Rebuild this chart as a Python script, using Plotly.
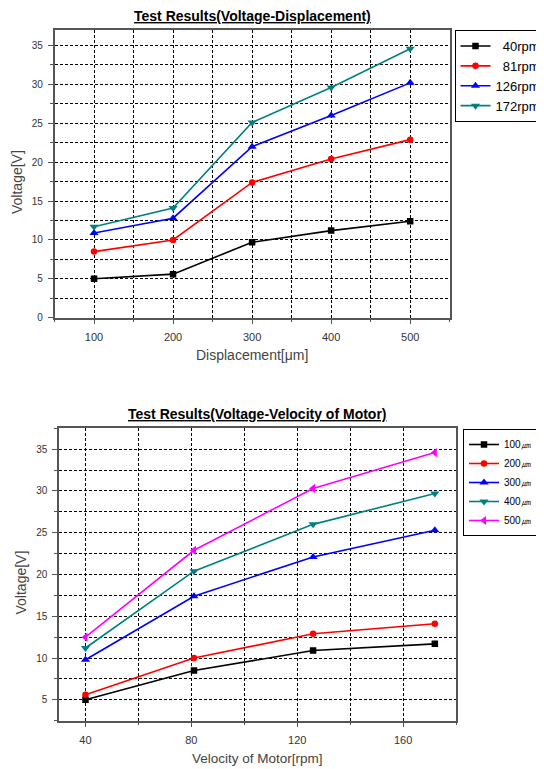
import plotly.graph_objects as go

# ---- Data: chart 1 (Voltage vs Displacement) ----
displacement = [100, 200, 300, 400, 500]
rpm_labels = ["  40rpm", "  81rpm", "126rpm", "172rpm"]
v_40rpm = [5.0, 5.6, 9.7, 11.2, 12.4]
v_81rpm = [8.5, 10.0, 17.4, 20.4, 22.9]
v_126rpm = [10.9, 12.8, 22.0, 26.0, 30.2]
v_172rpm = [11.7, 14.1, 25.1, 29.6, 34.6]

# ---- Data: chart 2 (Voltage vs Velocity of Motor) ----
velocity = [40, 81, 126, 172]
um_labels = ["100㎛", "200㎛", "300㎛", "400㎛", "500㎛"]
v_100um = [5.0, 8.5, 10.9, 11.7]
v_200um = [5.6, 10.0, 12.9, 14.1]
v_300um = [9.8, 17.4, 22.1, 25.3]
v_400um = [11.2, 20.4, 26.0, 29.7]
v_500um = [12.5, 22.9, 30.3, 34.6]

colors = ["#000000", "#FF0000", "#0000FF", "#008080", "#FF00FF"]
symbols = ["square", "circle", "triangle-up", "triangle-down", "triangle-left"]

# page body has an 8px default margin; size the figure to fit the window
OFF = 8
W, H = 544 - OFF, 769 - OFF

def px_x(p):
    return (p - OFF) / W

def px_y(p):
    return 1 - (p - OFF) / H

fig = go.Figure()

top_series = [v_40rpm, v_81rpm, v_126rpm, v_172rpm]
for i, (name, ys) in enumerate(zip(rpm_labels, top_series)):
    fig.add_trace(go.Scatter(
        x=displacement, y=ys, name=name, mode="lines+markers",
        line=dict(color=colors[i], width=1.6),
        marker=dict(symbol=symbols[i], size=8 if i >= 2 else 6.5, color=colors[i]),
        xaxis="x", yaxis="y", legend="legend"))

bot_series = [v_100um, v_200um, v_300um, v_400um, v_500um]
for i, (name, ys) in enumerate(zip(um_labels, bot_series)):
    fig.add_trace(go.Scatter(
        x=velocity, y=ys, name=name, mode="lines+markers",
        line=dict(color=colors[i], width=1.6),
        marker=dict(symbol=symbols[i], size=8 if i >= 2 else 6.5, color=colors[i]),
        xaxis="x2", yaxis="y2", legend="legend2"))

FONT = "Liberation Sans, Arial, sans-serif"
DASH = "3px,2px"

def minor(dtick):
    return dict(dtick=dtick, tick0=0, showgrid=True, gridcolor="#000000",
                griddash=DASH, gridwidth=1, ticks="outside", ticklen=3,
                tickcolor="#555555")

def axis_common(size):
    return dict(showgrid=True, gridcolor="#000000", griddash=DASH, gridwidth=1,
                showline=True, linecolor="#555555", linewidth=1.5, mirror=True,
                ticks="outside", ticklen=5, tickcolor="#555555",
                zeroline=False, ticklabelstandoff=3,
                tickfont=dict(family=FONT, size=size, color="#333333"))

fig.update_layout(
    width=W, height=H,
    margin=dict(l=0, r=0, t=0, b=0, autoexpand=False),
    paper_bgcolor="white", plot_bgcolor="white",
    font=dict(family=FONT),
    xaxis=dict(domain=[px_x(54.5), px_x(449.7)], range=[50, 550], anchor="y",
               tick0=0, dtick=100, minor=minor(50), **axis_common(11)),
    yaxis=dict(domain=[px_y(317.7), px_y(30)], range=[0, 37], anchor="x",
               tick0=0, dtick=5, minor=minor(2.5), **axis_common(10)),
    xaxis2=dict(domain=[px_x(59), px_x(456)], range=[30, 180], anchor="y2",
                tick0=0, dtick=40, minor=minor(20), **axis_common(11)),
    yaxis2=dict(domain=[px_y(720.7), px_y(428.3)], range=[2.5, 37.5], anchor="x2",
                tick0=0, dtick=5, minor=minor(2.5), **axis_common(10)),
    legend=dict(x=px_x(454.5), y=px_y(30), xanchor="left", yanchor="top",
                bordercolor="#000000", borderwidth=1, bgcolor="white",
                font=dict(family=FONT, size=13, color="#000000"), tracegroupgap=0,
                itemwidth=30, traceorder="normal"),
    legend2=dict(x=px_x(463), y=px_y(429), xanchor="left", yanchor="top",
                 bordercolor="#000000", borderwidth=1, bgcolor="white",
                 font=dict(family=FONT, size=10, color="#000000"), tracegroupgap=0,
                 itemwidth=30, traceorder="normal"),
    showlegend=True,
)

annots = [
    dict(text="<b><u>Test Results(Voltage-Displacement)</u></b>", x=px_x(252), y=px_y(16),
         font=dict(family=FONT, size=14, color="#000000")),
    dict(text="<b><u>Test Results(Voltage-Velocity of Motor)</u></b>", x=px_x(257.5), y=px_y(414),
         font=dict(family=FONT, size=14, color="#000000")),
    dict(text="Voltage[V]", x=px_x(17), y=px_y(182), textangle=-90,
         font=dict(family=FONT, size=14, color="#444444")),
    dict(text="Voltage[V]", x=px_x(20.5), y=px_y(583), textangle=-90,
         font=dict(family=FONT, size=14, color="#444444")),
    dict(text="Displacement[μm]", x=px_x(252), y=px_y(355),
         font=dict(family=FONT, size=14, color="#444444")),
    dict(text="Velocity of Motor[rpm]", x=px_x(257.5), y=px_y(758),
         font=dict(family=FONT, size=13.5, color="#444444")),
]
for a in annots:
    fig.add_annotation(xref="paper", yref="paper", showarrow=False,
                       xanchor="center", yanchor="middle", **a)

fig.write_html("out.html")
